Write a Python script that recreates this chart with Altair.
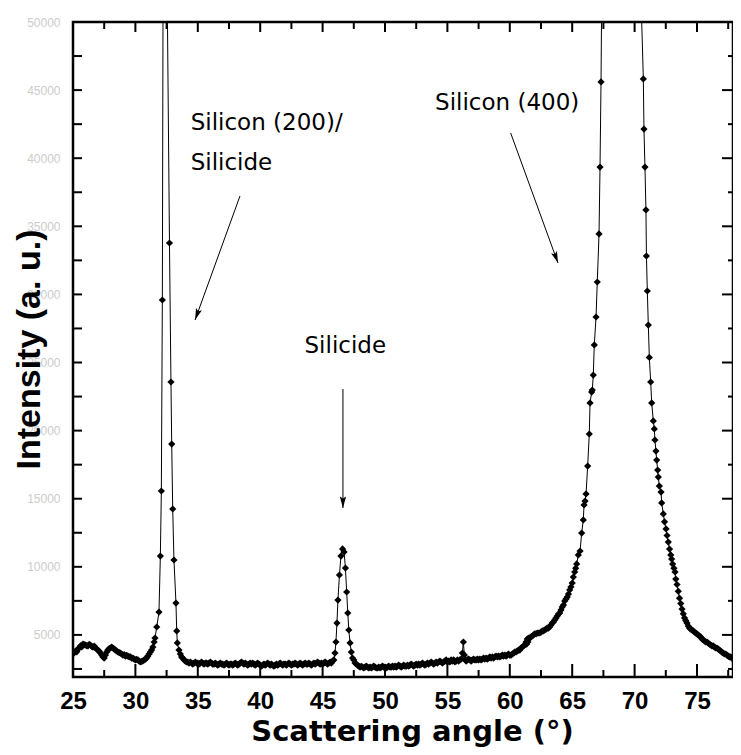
import altair as alt
import pandas as pd

# ---------------- data (angle in deg, intensity in counts) ----------------
left_background = [
    (25.0, 3600), (25.1, 3700), (25.2, 3820), (25.3, 3760), (25.4, 3960), (25.5, 4050), (25.6, 4190),
    (25.7, 4120), (25.8, 4330), (25.9, 4280), (26.0, 4260), (26.1, 4210), (26.2, 4190), (26.3, 4300),
    (26.4, 4260), (26.5, 4150), (26.6, 4110), (26.7, 4180), (26.8, 4040), (26.9, 3960), (27.0, 3890),
    (27.1, 3800), (27.2, 3670), (27.3, 3520), (27.4, 3380), (27.5, 3300), (27.6, 3520), (27.7, 3740),
    (27.8, 3890), (27.9, 4000), (28.0, 4040), (28.1, 4110), (28.2, 4040), (28.3, 3960), (28.4, 3890),
    (28.5, 3820), (28.6, 3745), (28.7, 3700), (28.8, 3670), (28.9, 3600), (29.0, 3520), (29.1, 3560),
    (29.2, 3450), (29.3, 3500), (29.4, 3450), (29.5, 3380), (29.6, 3380), (29.7, 3300), (29.8, 3300),
    (29.9, 3230), (30.0, 3160), (30.1, 3200), (30.2, 3160), (30.3, 3080), (30.4, 3010), (30.5, 3050),
    (30.6, 3085), (30.7, 3160), (30.8, 3230), (30.9, 3300), (31.0, 3450), (31.1, 3600), (31.2, 3745),
    (31.3, 3900), (31.4, 4110),
]

si200_peak = [
    (31.5, 4480), (31.57, 4770), (31.71, 5580), (31.89, 6680), (32.0, 10790), (32.08, 15565),
    (32.16, 29590), (32.23, 58000), (32.35, 400000), (32.45, 500000), (32.55, 52000), (32.73, 33774),
    (32.85, 23570), (32.91, 19010), (32.99, 14245), (33.09, 10500), (33.25, 7340), (33.31, 5290),
    (33.36, 4410), (33.49, 3890), (33.6, 3600), (33.7, 3380), (33.79, 3300), (33.9, 3160),
    (34.0, 3080), (34.11, 3010),
]

middle_background = [
    (34.2, 3010), (34.3, 2930), (34.4, 3010), (34.5, 2930), (34.6, 2860), (34.7, 2930), (34.8, 3010),
    (34.9, 2930), (35.0, 2930), (35.1, 2860), (35.2, 2930), (35.3, 3010), (35.4, 2930), (35.5, 2860),
    (35.6, 2930), (35.7, 2930), (35.8, 2860), (35.9, 2930), (36.0, 3010), (36.1, 2930), (36.2, 2860),
    (36.3, 2860), (36.4, 2930), (36.5, 2860), (36.6, 2780), (36.7, 2860), (36.8, 2930), (36.9, 2860),
    (37.0, 2860), (37.1, 2780), (37.2, 2860), (37.3, 2930), (37.4, 2860), (37.5, 2780), (37.6, 2860),
    (37.7, 2860), (37.8, 2780), (37.9, 2860), (38.0, 2930), (38.1, 2860), (38.2, 2780), (38.3, 2860),
    (38.4, 2930), (38.5, 3010), (38.6, 2930), (38.7, 2860), (38.8, 2930), (38.9, 2860), (39.0, 2780),
    (39.1, 2860), (39.2, 2930), (39.3, 2860), (39.4, 2930), (39.5, 2860), (39.6, 2780), (39.7, 2860),
    (39.8, 2930), (39.9, 2860), (40.0, 2780), (40.1, 2710), (40.2, 2780), (40.3, 2860), (40.4, 2780),
    (40.5, 2860), (40.6, 2930), (40.7, 2860), (40.8, 2780), (40.9, 2860), (41.0, 2780), (41.1, 2710),
    (41.2, 2780), (41.3, 2860), (41.4, 2780), (41.5, 2860), (41.6, 2930), (41.7, 2860), (41.8, 2780),
    (41.9, 2860), (42.0, 2860), (42.1, 2780), (42.2, 2860), (42.3, 2930), (42.4, 2860), (42.5, 2780),
    (42.6, 2860), (42.7, 2860), (42.8, 2930), (42.9, 2860), (43.0, 2780), (43.1, 2860), (43.2, 2930),
    (43.3, 2860), (43.4, 2780), (43.5, 2860), (43.6, 2930), (43.7, 2860), (43.8, 2860), (43.9, 2930),
    (44.0, 2860), (44.1, 2780), (44.2, 2860), (44.3, 2930), (44.4, 2860), (44.5, 2930), (44.6, 3010),
    (44.7, 2930), (44.8, 2860), (44.9, 2930), (45.0, 2860), (45.1, 2930), (45.2, 3010), (45.3, 2930),
    (45.4, 2860), (45.5, 2930), (45.6, 3010), (45.7, 2930),
]

silicide_peak = [
    (45.8, 3080), (45.9, 3160), (45.99, 3670), (46.07, 4480), (46.15, 5870), (46.23, 7560),
    (46.35, 9400), (46.47, 10790), (46.6, 11310), (46.72, 11090), (46.83, 9910), (46.93, 8150),
    (47.02, 6610), (47.1, 5360), (47.2, 4410), (47.3, 3740), (47.4, 3300), (47.5, 3160),
    (47.6, 2940), (47.7, 2860),
]

right_background = [
    (47.8, 2780), (47.9, 2710), (48.0, 2640), (48.1, 2700), (48.2, 2640), (48.3, 2570), (48.4, 2640),
    (48.5, 2710), (48.6, 2640), (48.7, 2570), (48.8, 2640), (48.9, 2570), (49.0, 2640), (49.1, 2710),
    (49.2, 2640), (49.3, 2570), (49.4, 2570), (49.5, 2640), (49.6, 2570), (49.7, 2640), (49.8, 2710),
    (49.9, 2640), (50.0, 2640), (50.1, 2570), (50.2, 2640), (50.3, 2710), (50.4, 2640), (50.5, 2640),
    (50.6, 2710), (50.7, 2640), (50.8, 2710), (50.9, 2640), (51.0, 2710), (51.1, 2780), (51.2, 2710),
    (51.3, 2640), (51.4, 2710), (51.5, 2780), (51.6, 2710), (51.7, 2710), (51.8, 2780), (51.9, 2710),
    (52.0, 2780), (52.1, 2860), (52.2, 2780), (52.3, 2710), (52.4, 2780), (52.5, 2860), (52.6, 2780),
    (52.7, 2860), (52.8, 2780), (52.9, 2860), (53.0, 2930), (53.1, 2860), (53.2, 2780), (53.3, 2860),
    (53.4, 2930), (53.5, 2860), (53.6, 2930), (53.7, 3010), (53.8, 2930), (53.9, 2860), (54.0, 2930),
    (54.1, 3010), (54.2, 2930), (54.3, 3010), (54.4, 3080), (54.5, 3010), (54.6, 2930), (54.7, 3010),
    (54.8, 3080), (54.9, 3160), (55.0, 3010), (55.1, 3080), (55.2, 3010), (55.3, 3160), (55.4, 3080),
    (55.5, 3160), (55.6, 3010), (55.7, 3080), (55.8, 3160), (55.9, 3080), (56.0, 3160), (56.1, 3230),
    (56.2, 3670), (56.28, 4480), (56.36, 3520), (56.45, 3160), (56.5, 3080), (56.6, 3160), (56.7, 3230),
    (56.8, 3160), (56.9, 3080), (57.0, 3160), (57.1, 3230), (57.2, 3160), (57.3, 3160), (57.4, 3230),
    (57.5, 3160), (57.6, 3230), (57.7, 3160), (57.8, 3230), (57.9, 3300), (58.0, 3230), (58.1, 3300),
    (58.2, 3230), (58.3, 3300), (58.4, 3380), (58.5, 3300), (58.6, 3380), (58.7, 3300), (58.8, 3380),
    (58.9, 3450), (59.0, 3380), (59.1, 3450), (59.2, 3380), (59.3, 3450), (59.4, 3520), (59.5, 3450),
    (59.6, 3520), (59.7, 3450), (59.8, 3520), (59.9, 3600), (60.0, 3520),
]

si400_rise = [
    (60.1, 3520), (60.2, 3600), (60.3, 3670), (60.4, 3740), (60.5, 3750), (60.6, 3820), (60.7, 3890),
    (60.8, 3890), (60.9, 4040), (61.0, 4110), (61.1, 4190), (61.2, 4260), (61.3, 4480), (61.35, 4330),
    (61.4, 4700), (61.45, 4480), (61.5, 4770), (61.6, 4770), (61.7, 4850), (61.8, 4920), (61.9, 5000),
    (62.0, 5070), (62.1, 5070), (62.2, 5140), (62.3, 5140), (62.4, 5140), (62.5, 5210), (62.6, 5290),
    (62.7, 5290), (62.8, 5360), (62.9, 5430), (63.0, 5500), (63.1, 5500), (63.2, 5580), (63.3, 5730),
    (63.4, 5870), (63.5, 5950), (63.6, 6100), (63.7, 6240), (63.8, 6390), (63.9, 6530), (64.0, 6610),
    (64.1, 6830), (64.2, 7050), (64.3, 7200), (64.4, 7490), (64.5, 7630), (64.6, 7780), (64.7, 8000),
    (64.8, 8300), (64.9, 8520), (65.0, 8810), (65.09, 9250), (65.2, 9620), (65.28, 9900),
    (65.36, 10210), (65.49, 10870), (65.63, 11160), (65.76, 12480), (65.89, 13440), (65.95, 14540),
    (66.03, 14830), (66.11, 15350), (66.24, 17400), (66.37, 19750), (66.43, 22030), (66.56, 22830),
    (66.61, 22980), (66.69, 24080), (66.77, 26290), (66.91, 28340), (67.01, 30910), (67.15, 34440),
    (67.23, 39350), (67.31, 45600),
]

si400_top = [
    (67.42, 58000), (67.6, 200000), (68.0, 600000), (68.5, 900000), (69.0, 1000000),
    (69.5, 900000), (70.0, 600000), (70.3, 200000), (70.5, 52250),
]

si400_fall = [
    (70.7, 45820), (70.75, 42140), (70.83, 39350), (70.91, 36200), (70.95, 32820), (71.02, 30250),
    (71.1, 27750), (71.18, 25370), (71.29, 23570), (71.37, 22030), (71.5, 20710), (71.58, 20120),
    (71.63, 19310), (71.71, 18500), (71.77, 17840), (71.85, 17100), (71.9, 16590), (71.98, 15930),
    (72.12, 15490), (72.17, 14690), (72.3, 13880), (72.4, 13300), (72.52, 12780), (72.6, 12300),
    (72.7, 11820), (72.8, 11300), (72.9, 10870), (72.97, 10570), (73.05, 10200), (73.15, 9900),
    (73.24, 9620), (73.3, 9100), (73.4, 8700), (73.5, 8200), (73.6, 7700), (73.7, 7300), (73.8, 6900),
    (73.9, 6550), (74.0, 6250), (74.1, 6050), (74.2, 5870), (74.3, 5650), (74.4, 5500), (74.5, 5430),
    (74.6, 5360), (74.7, 5290), (74.8, 5210), (74.9, 5140), (75.0, 5070), (75.1, 4990), (75.2, 4920),
    (75.3, 4850), (75.4, 4700), (75.5, 4630), (75.6, 4560), (75.7, 4480), (75.8, 4480), (75.9, 4400),
    (76.0, 4330), (76.1, 4260), (76.2, 4190), (76.3, 4190), (76.4, 4110), (76.5, 4040), (76.6, 4040),
    (76.7, 3960), (76.8, 3890), (76.9, 3820), (77.0, 3740), (77.1, 3670), (77.2, 3600), (77.3, 3600),
    (77.4, 3520), (77.5, 3450), (77.6, 3380), (77.7, 3380), (77.8, 3300), (77.9, 3230), (78.0, 3230),
    (78.1, 3160), (78.2, 3160), (78.3, 3080), (78.4, 3010), (78.5, 3010),
]

x_tick_labels = [25, 30, 35, 40, 45, 50, 55, 60, 65, 70, 75]
x_major_ticks = [25, 30, 35, 40, 45, 50, 55, 60, 65, 70, 75]
x_minor_ticks = [27.5, 32.5, 37.5, 42.5, 47.5, 52.5, 57.5, 62.5, 67.5, 72.5, 77.5]
y_tick_labels = [5000, 10000, 15000, 20000, 25000, 30000, 35000, 40000, 45000, 50000]
y_major_ticks = [5000, 10000, 15000, 20000, 25000, 30000, 35000, 40000, 45000]
y_minor_ticks = [2500, 7500, 12500, 17500, 22500, 27500, 32500, 37500, 42500, 47500]

labels_text = ["Silicon (200)/", "Silicide", "Silicide", "Silicon (400)"]
labels_x = [34.43, 34.43, 43.55, 54.01]
labels_y = [42070, 39134, 25698, 43539]

arrow_x_start = [38.38, 46.63, 60.07]
arrow_y_start = [37225, 23055, 41850]
arrow_x_end = [34.78, 46.63, 63.86]
arrow_y_end = [28120, 14318, 32306]
arrow_angle = [200, 180, 160]

# ---------------- chart ----------------
W, H = 660, 655
X_DOMAIN = [25, 77.885]
Y_DOMAIN = [1910, 50000]

segments = (left_background + si200_peak + middle_background + silicide_peak
            + right_background + si400_rise + si400_top + si400_fall)
df = pd.DataFrame(segments, columns=["angle", "intensity"])

xsc = alt.Scale(domain=X_DOMAIN, nice=False, zero=False)
ysc = alt.Scale(domain=Y_DOMAIN, nice=False, zero=False)

x_axis = alt.Axis(
    values=x_tick_labels, ticks=False, domain=False, grid=False, labelFlush=False,
    labelFont="Liberation Sans", labelFontWeight="bold", labelFontSize=24, labelColor="black",
    labelPadding=12, title="Scattering angle (°)", titleFont="DejaVu Sans",
    titleFontWeight="bold", titleFontSize=29, titleColor="black", titleX=339, titleY=63,
    titleBaseline="alphabetic", titleAlign="center",
)
y_axis = alt.Axis(
    values=y_tick_labels, ticks=False, domain=False, grid=False, labelFlush=False,
    format="d", labelFont="Liberation Sans", labelFontSize=12, labelColor="#cccccc",
    labelPadding=13, title="Intensity (a. u.)", titleFont="Liberation Sans",
    titleFontWeight="bold", titleFontSize=34, titleColor="black", titleAngle=270,
    titleX=-34, titleY=327, titleBaseline="alphabetic", titleAlign="center",
)

base = alt.Chart(df)
line = base.mark_line(color="black", strokeWidth=1, clip=True).encode(
    x=alt.X("angle:Q", scale=xsc, axis=x_axis),
    y=alt.Y("intensity:Q", scale=ysc, axis=y_axis),
    order="angle:Q",
)
pts = base.mark_point(shape="diamond", filled=True, color="black", size=52, opacity=1, clip=True).encode(
    x=alt.X("angle:Q", scale=xsc, axis=x_axis),
    y=alt.Y("intensity:Q", scale=ysc, axis=y_axis),
)

def xticks(values, y0, y1):
    return alt.Chart(pd.DataFrame({"t": values})).mark_rule(color="black", strokeWidth=2).encode(
        x=alt.X("t:Q", scale=xsc, axis=x_axis), y=alt.value(y0), y2=alt.value(y1))

def yticks(values, x0, x1):
    return alt.Chart(pd.DataFrame({"t": values})).mark_rule(color="black", strokeWidth=2).encode(
        y=alt.Y("t:Q", scale=ysc, axis=y_axis), x=alt.value(x0), x2=alt.value(x1))

ticks = [
    xticks(x_major_ticks, H, H - 13), xticks(x_minor_ticks, H, H - 7),
    xticks(x_major_ticks, 0, 10), xticks(x_minor_ticks, 0, 7),
    yticks(y_major_ticks, 0, 9), yticks(y_minor_ticks, 0, 9),
    yticks(y_major_ticks, W, W - 11), yticks(y_minor_ticks, W, W - 5),
]

ann = pd.DataFrame({"label": labels_text, "x": labels_x, "y": labels_y})
texts = alt.Chart(ann).mark_text(
    align="left", baseline="alphabetic", font="DejaVu Sans", fontSize=23, color="black"
).encode(x=alt.X("x:Q", scale=xsc, axis=x_axis), y=alt.Y("y:Q", scale=ysc, axis=y_axis),
         text="label:N")

arr = pd.DataFrame({"x0": arrow_x_start, "y0": arrow_y_start, "x1": arrow_x_end,
                    "y1": arrow_y_end, "ang": arrow_angle})
shafts = alt.Chart(arr).mark_rule(color="black", strokeWidth=1).encode(
    x=alt.X("x0:Q", scale=xsc, axis=x_axis), y=alt.Y("y0:Q", scale=ysc, axis=y_axis),
    x2="x1:Q", y2="y1:Q")
heads = alt.Chart(arr).mark_point(
    shape="M0,0L-0.6,2.2L0,1.8L0.6,2.2Z", filled=True, color="black", size=110, opacity=1
).encode(
    x=alt.X("x1:Q", scale=xsc, axis=x_axis), y=alt.Y("y1:Q", scale=ysc, axis=y_axis),
    angle=alt.Angle("ang:Q", scale=None))

chart = alt.layer(line, pts, *ticks, shafts, heads, texts).properties(
    width=W, height=H,
    autosize=alt.AutoSizeParams(type="none"),
    padding={"left": 65, "top": 14, "right": 0, "bottom": 70},
    background="white",
).configure_view(stroke="black", strokeWidth=2.5)

chart.save("out.html", embed_options={"renderer": "svg", "actions": False})
